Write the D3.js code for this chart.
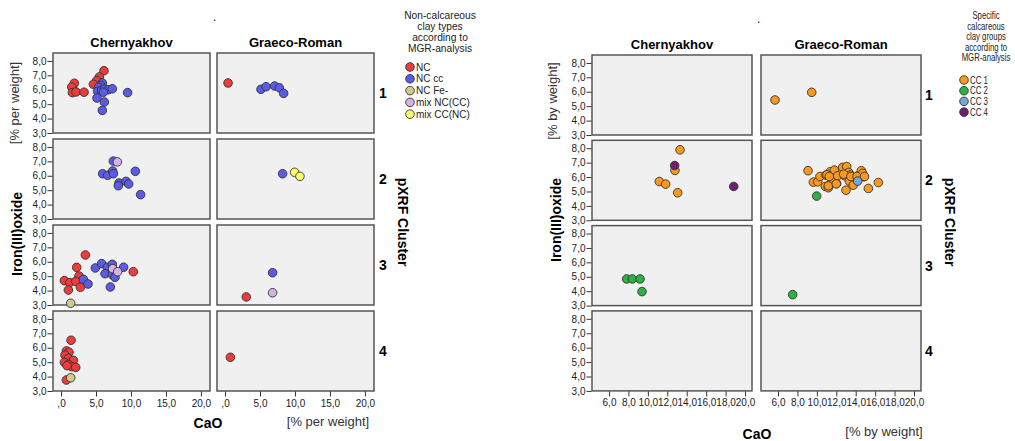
<!DOCTYPE html>
<html>
<head>
<meta charset="utf-8">
<script src="https://cdn.jsdelivr.net/npm/d3@7"></script>
<style>
  body { margin: 0; background: #fff; }
  svg { font-family: "Liberation Sans", Arial, sans-serif; }
  .tick text { font-size: 10px; fill: #222; }
  .tick line { stroke: #333; }
</style>
</head>
<body>
<div id="chart"></div>
<script>
// ---- data ----
const sites = ["Chernyakhov", "Graeco-Roman"];
const clusters = ["1", "2", "3", "4"];
const yTicks = [3, 4, 5, 6, 7, 8];
const leftXTicks = [0, 5, 10, 15, 20];
const rightXTicks = [6, 8, 10, 12, 14, 16, 18, 20];

const leftGroups = ["NC", "NC cc", "NC Fe-", "mix NC(CC)", "mix CC(NC)"];
const rightGroups = ["CC 1", "CC 2", "CC 3", "CC 4"];

// [site, cluster, group, CaO, Fe2O3]
const leftPoints = [
  // Chernyakhov, cluster 1
  [0, 0, 0, 6.14, 7.32], [0, 0, 0, 5.48, 6.89], [0, 0, 0, 5.10, 6.63], [0, 0, 0, 4.62, 6.38],
  [0, 0, 0, 1.90, 6.45], [0, 0, 0, 1.52, 6.19], [0, 0, 0, 1.62, 5.80], [0, 0, 0, 2.14, 5.85],
  [0, 0, 0, 3.29, 5.83],
  [0, 0, 1, 5.90, 6.47], [0, 0, 1, 5.67, 6.31], [0, 0, 1, 5.33, 6.17], [0, 0, 1, 5.24, 5.89],
  [0, 0, 1, 5.81, 5.96], [0, 0, 1, 6.19, 6.05], [0, 0, 1, 6.76, 6.00], [0, 0, 1, 7.33, 6.07],
  [0, 0, 1, 6.05, 5.83], [0, 0, 1, 5.14, 5.43], [0, 0, 1, 6.19, 5.15], [0, 0, 1, 5.90, 4.57],
  [0, 0, 1, 9.52, 5.80],
  // Graeco-Roman, cluster 1
  [1, 0, 0, 0.43, 6.47],
  [1, 0, 1, 5.14, 6.03], [1, 0, 1, 5.86, 6.21], [1, 0, 1, 7.09, 6.26], [1, 0, 1, 7.76, 6.14],
  [1, 0, 1, 8.38, 5.75],
  // Chernyakhov, cluster 2
  [0, 1, 1, 7.48, 7.02], [0, 1, 1, 5.95, 6.14], [0, 1, 1, 6.67, 6.03], [0, 1, 1, 7.38, 6.33],
  [0, 1, 1, 7.48, 6.14], [0, 1, 1, 8.29, 5.50], [0, 1, 1, 8.19, 5.31], [0, 1, 1, 9.29, 5.61],
  [0, 1, 1, 9.67, 5.43], [0, 1, 1, 10.62, 6.31], [0, 1, 1, 11.38, 4.69],
  [0, 1, 3, 8.05, 6.96],
  // Graeco-Roman, cluster 2
  [1, 1, 1, 8.23, 6.14], [1, 1, 4, 9.95, 6.24], [1, 1, 4, 10.71, 5.96],
  // Chernyakhov, cluster 3
  [0, 2, 0, 3.48, 6.47], [0, 2, 0, 2.24, 5.61], [0, 2, 0, 2.57, 5.01], [0, 2, 0, 0.48, 4.69],
  [0, 2, 0, 1.24, 4.55], [0, 2, 0, 2.10, 4.64], [0, 2, 0, 2.76, 4.23], [0, 2, 0, 1.05, 4.04],
  [0, 2, 0, 10.33, 5.31],
  [0, 2, 1, 3.19, 4.78], [0, 2, 1, 3.86, 4.46], [0, 2, 1, 4.90, 5.57], [0, 2, 1, 5.81, 5.87],
  [0, 2, 1, 6.62, 5.62], [0, 2, 1, 7.33, 5.82], [0, 2, 1, 6.29, 5.17], [0, 2, 1, 7.33, 5.10],
  [0, 2, 1, 7.71, 4.92], [0, 2, 1, 8.95, 5.62], [0, 2, 1, 7.05, 4.25],
  [0, 2, 3, 7.38, 5.52], [0, 2, 3, 8.10, 5.31],
  [0, 2, 2, 1.38, 3.12],
  // Graeco-Roman, cluster 3
  [1, 2, 1, 6.80, 5.24], [1, 2, 3, 6.80, 3.85], [1, 2, 0, 3.04, 3.56],
  // Chernyakhov, cluster 4
  [0, 3, 0, 1.43, 6.52], [0, 3, 0, 0.76, 5.78], [0, 3, 0, 1.14, 5.69], [0, 3, 0, 0.57, 5.50],
  [0, 3, 0, 1.05, 5.27], [0, 3, 0, 1.76, 5.13], [0, 3, 0, 0.48, 4.99], [0, 3, 0, 1.05, 4.85],
  [0, 3, 0, 1.52, 4.69], [0, 3, 0, 2.10, 4.64], [0, 3, 0, 0.86, 4.76], [0, 3, 0, 0.76, 3.76],
  [0, 3, 2, 1.38, 3.92],
  // Graeco-Roman, cluster 4
  [1, 3, 0, 0.76, 5.34]
];

const rightPoints = [
  // Graeco-Roman, cluster 1
  [1, 0, 0, 5.69, 5.43], [1, 0, 0, 9.47, 5.96],
  // Chernyakhov, cluster 2
  [0, 1, 0, 13.31, 7.89], [0, 1, 0, 12.79, 6.46], [0, 1, 0, 11.18, 5.69], [0, 1, 0, 11.83, 5.51],
  [0, 1, 0, 13.07, 4.91],
  [0, 1, 3, 12.76, 6.80], [0, 1, 3, 18.84, 5.35],
  // Graeco-Roman, cluster 2
  [1, 1, 0, 9.09, 6.44], [1, 1, 0, 9.64, 5.65], [1, 1, 0, 10.09, 5.67], [1, 1, 0, 10.32, 6.04],
  [1, 1, 0, 10.94, 6.13], [1, 1, 0, 10.87, 5.35], [1, 1, 0, 11.18, 5.26], [1, 1, 0, 11.28, 5.44],
  [1, 1, 0, 11.38, 6.37], [1, 1, 0, 11.63, 6.09], [1, 1, 0, 11.80, 6.48], [1, 1, 0, 11.69, 5.76],
  [1, 1, 0, 12.04, 5.55], [1, 1, 0, 12.14, 6.09], [1, 1, 0, 12.66, 6.67], [1, 1, 0, 13.07, 6.73],
  [1, 1, 0, 12.83, 6.09], [1, 1, 0, 13.28, 6.32], [1, 1, 0, 13.44, 6.14], [1, 1, 0, 13.34, 5.72],
  [1, 1, 0, 13.75, 5.44], [1, 1, 0, 13.00, 5.09], [1, 1, 0, 14.20, 6.07], [1, 1, 0, 14.58, 6.44],
  [1, 1, 0, 14.82, 6.02], [1, 1, 0, 14.72, 6.25], [1, 1, 0, 15.30, 5.21], [1, 1, 0, 16.33, 5.62],
  [1, 1, 0, 11.04, 6.16], [1, 1, 0, 11.28, 6.04], [1, 1, 0, 12.76, 6.20], [1, 1, 0, 13.50, 6.04],
  [1, 1, 0, 14.13, 6.04], [1, 1, 0, 11.18, 5.39], [1, 1, 0, 12.00, 5.53], [1, 1, 0, 14.90, 6.04],
  [1, 1, 2, 14.20, 5.72],
  [1, 1, 1, 9.98, 4.68],
  // Chernyakhov, cluster 3
  [0, 2, 1, 7.82, 4.85], [0, 2, 1, 8.40, 4.85], [0, 2, 1, 9.19, 4.85], [0, 2, 1, 9.40, 3.97],
  // Graeco-Roman, cluster 3
  [1, 2, 1, 7.51, 3.76]
];

// ---- styles ----
const leftColors = ["#ee3b3b", "#5a5ce8", "#d2c98e", "#d7b0e6", "#fcfc6a"];
const rightColors = ["#fb981e", "#2fb046", "#74a6d8", "#6e1f72"];

const charts = [
  {
    points: leftPoints, groups: leftGroups, colors: leftColors, xTicks: leftXTicks,
    xDomain: [-1.15, 21.3], colX: [53, 217], colW: 157, rowTop: 53, rowStep: 86, rowH: 80,
    unit: "[% per weight]", dotX: 213, dotY: 21,
    yTitleX: 22, yTitleY: 234, yUnitX: 19, yUnitY: 103,
    xTitleX: 208, xTitleY: 428, xUnitX: 328, xUnitY: 426,
    rowLabelX: 379, clusterX: 398,
    legendX: 440, legendTitle: ["Non-calcareous", "clay types", "according to", "MGR-analysis"],
    titleY0: 19, titleStep: 11, titleSize: 11.5, titleScale: 0.89,
    legendDotX: 410, legendY0: 67, legendStep: 11.8, itemSize: 10, itemScale: 1
  },
  {
    points: rightPoints, groups: rightGroups, colors: rightColors, xTicks: rightXTicks,
    xDomain: [4.25, 20.72], colX: [592, 761], colW: 160, rowTop: 55, rowStep: 85.3, rowH: 80,
    unit: "[% by weight]", dotX: 757, dotY: 23,
    yTitleX: 561, yTitleY: 220, yUnitX: 557, yUnitY: 101,
    xTitleX: 757, xTitleY: 439, xUnitX: 884, xUnitY: 436,
    rowLabelX: 925, clusterX: 945,
    legendX: 986, legendTitle: ["Specific", "calcareous", "clay groups", "according to", "MGR-analysis"],
    titleY0: 19, titleStep: 10.5, titleSize: 10.5, titleScale: 0.74,
    legendDotX: 964, legendY0: 80, legendStep: 10.7, itemSize: 10.5, itemScale: 0.75
  }
];

const svg = d3.select("#chart").append("svg")
  .attr("width", 1015)
  .attr("height", 441);

const fmt = v => v === 0 ? ",0" : d3.format(".1f")(v).replace(".", ",");

charts.forEach(c => {
  const g = svg.append("g");

  const x = [0, 1].map(i => d3.scaleLinear().domain(c.xDomain).range([c.colX[i], c.colX[i] + c.colW]));
  const y = clusters.map((_, r) => {
    const top = c.rowTop + r * c.rowStep;
    return d3.scaleLinear().domain([3, 8.55]).range([top + c.rowH, top]);
  });

  // panels
  clusters.forEach((cl, r) => {
    sites.forEach((s, i) => {
      g.append("rect")
        .attr("x", c.colX[i])
        .attr("y", c.rowTop + r * c.rowStep)
        .attr("width", c.colW)
        .attr("height", c.rowH)
        .attr("fill", "#f0f0f0")
        .attr("stroke", "#555")
        .attr("stroke-width", 1.5);
    });

    const ax = g.append("g")
      .attr("transform", `translate(${c.colX[0] - 0.5},0)`)
      .call(d3.axisLeft(y[r]).tickValues(yTicks).tickFormat(fmt).tickSize(5).tickPadding(1));
    ax.select(".domain").remove();

    g.append("text")
      .attr("x", c.rowLabelX)
      .attr("y", c.rowTop + r * c.rowStep + c.rowH / 2 + 5)
      .attr("font-size", 14)
      .attr("font-weight", "bold")
      .text(cl);
  });

  // bottom axes
  const bottom = c.rowTop + 3 * c.rowStep + c.rowH;
  sites.forEach((s, i) => {
    const ax = g.append("g")
      .attr("transform", `translate(0,${bottom + 0.5})`)
      .call(d3.axisBottom(x[i]).tickValues(c.xTicks).tickFormat(fmt).tickSize(5).tickPadding(3));
    ax.select(".domain").remove();

    g.append("text")
      .attr("x", c.colX[i] + c.colW / 2)
      .attr("y", c.rowTop - 6)
      .attr("text-anchor", "middle")
      .attr("font-size", 13)
      .attr("font-weight", "bold")
      .text(s);
  });

  // points
  g.append("g").selectAll("circle")
    .data(c.points)
    .join("circle")
    .attr("cx", d => x[d[0]](d[3]))
    .attr("cy", d => y[d[1]](d[4]))
    .attr("r", 4.3)
    .attr("fill", d => c.colors[d[2]])
    .attr("stroke", "#333")
    .attr("stroke-width", 0.9);

  // titles
  g.append("text").attr("x", c.dotX).attr("y", c.dotY).attr("font-size", 12).text(".");

  g.append("text")
    .attr("transform", `translate(${c.yTitleX},${c.yTitleY}) rotate(-90)`)
    .attr("text-anchor", "middle")
    .attr("font-size", 14)
    .attr("font-weight", "bold")
    .text("Iron(III)oxide");
  g.append("text")
    .attr("transform", `translate(${c.yUnitX},${c.yUnitY}) rotate(-90)`)
    .attr("text-anchor", "middle")
    .attr("font-size", 13)
    .attr("fill", "#333")
    .text(c.unit);

  g.append("text")
    .attr("x", c.xTitleX).attr("y", c.xTitleY)
    .attr("text-anchor", "middle")
    .attr("font-size", 14)
    .attr("font-weight", "bold")
    .text("CaO");
  g.append("text")
    .attr("x", c.xUnitX).attr("y", c.xUnitY)
    .attr("text-anchor", "middle")
    .attr("font-size", 13)
    .attr("fill", "#333")
    .text(c.unit);

  g.append("text")
    .attr("transform", `translate(${c.clusterX},222) rotate(90)`)
    .attr("text-anchor", "middle")
    .attr("font-size", 14)
    .attr("font-weight", "bold")
    .text("pXRF Cluster");

  // legend
  c.legendTitle.forEach((t, i) => {
    g.append("text")
      .attr("transform", `translate(${c.legendX},${c.titleY0 + i * c.titleStep}) scale(${c.titleScale},1)`)
      .attr("text-anchor", "middle")
      .attr("font-size", c.titleSize)
      .attr("fill", "#222")
      .text(t);
  });
  c.groups.forEach((gr, i) => {
    const ly = c.legendY0 + i * c.legendStep;
    g.append("circle")
      .attr("cx", c.legendDotX).attr("cy", ly).attr("r", 4.3)
      .attr("fill", c.colors[i]).attr("stroke", "#333").attr("stroke-width", 0.9);
    g.append("text")
      .attr("transform", `translate(${c.legendDotX + 6},${ly + 3.5}) scale(${c.itemScale},1)`)
      .attr("font-size", c.itemSize)
      .attr("fill", "#222")
      .text(gr);
  });
});
</script>
</body>
</html>
